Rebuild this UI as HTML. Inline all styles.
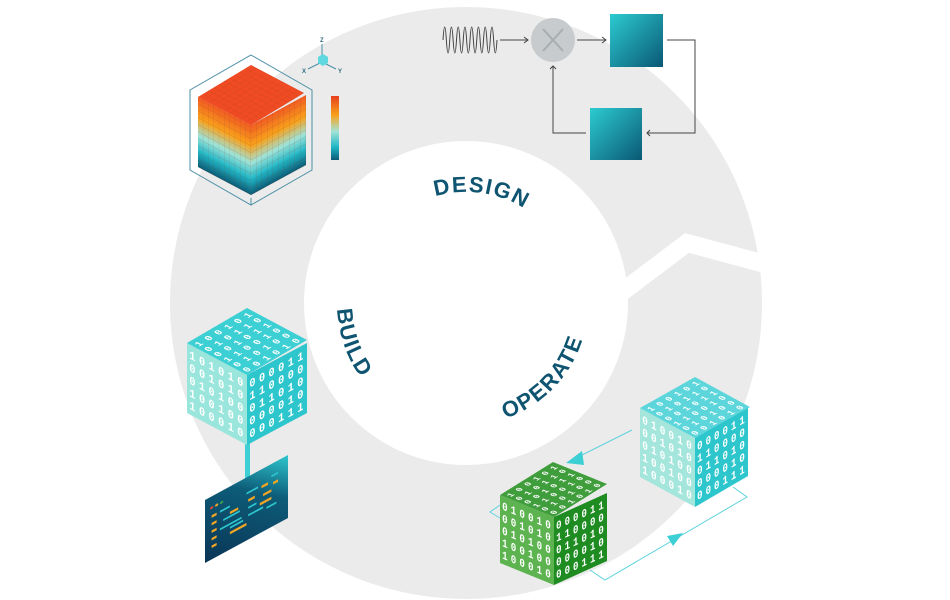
<!DOCTYPE html>
<html><head><meta charset="utf-8"><style>html,body{margin:0;padding:0;background:#fff}svg{display:block}</style></head>
<body>
<svg width="950" height="600" viewBox="0 0 950 600" xmlns="http://www.w3.org/2000/svg" font-family="Liberation Sans, sans-serif">
<defs>
<linearGradient id="side" x1="0" y1="0" x2="0" y2="1">
<stop offset="0" stop-color="#f15a22"/><stop offset="0.3" stop-color="#f9a11b"/><stop offset="0.55" stop-color="#9ee3d8"/><stop offset="0.78" stop-color="#1fb6c6"/><stop offset="1" stop-color="#0b5a75"/></linearGradient>
<linearGradient id="bar" x1="0" y1="0" x2="0" y2="1">
<stop offset="0" stop-color="#e8401f"/><stop offset="0.3" stop-color="#f7a21b"/><stop offset="0.55" stop-color="#a5e3d6"/><stop offset="0.8" stop-color="#1fb6c6"/><stop offset="1" stop-color="#0b5a75"/></linearGradient>
<linearGradient id="box" x1="0" y1="0" x2="1" y2="1"><stop offset="0" stop-color="#2ccbd1"/><stop offset="1" stop-color="#0a5874"/></linearGradient>
<linearGradient id="scr" x1="1" y1="0" x2="0" y2="1"><stop offset="0" stop-color="#2fc7cf"/><stop offset="0.35" stop-color="#0d5c78"/><stop offset="1" stop-color="#0a3556"/></linearGradient>
<pattern id="grid" width="10" height="10" patternUnits="userSpaceOnUse"><path d="M10 0V10H0" fill="none" stroke="#7a3a20" stroke-opacity="0.35" stroke-width="1"/></pattern>
<path id="pD" d="M378.5,234.6 A111,111 0 0 1 568.9,261.4"/>
<path id="pB" d="M368.2,218.9 A129,129 0 0 0 442,429.8"/>
<path id="pO" d="M436.5,421.4 A122,122 0 0 0 583.3,269.4"/>
</defs>
<!-- ring -->
<circle cx="466" cy="303" r="229" fill="none" stroke="#ebebeb" stroke-width="134"/>
<polyline points="622,292 687,243 765,264" fill="none" stroke="#fff" stroke-width="18"/>
<!-- labels -->
<g font-weight="bold" font-size="22" fill="#0f5470" letter-spacing="1.5">
<text><textPath href="#pD" startOffset="50%" text-anchor="middle">DESIGN</textPath></text>
<text><textPath href="#pB" startOffset="50%" text-anchor="middle">BUILD</textPath></text>
<text><textPath href="#pO" startOffset="50%" text-anchor="middle">OPERATE</textPath></text>
</g>
<!-- voxel cube -->
<polygon points="251,55 312,90 312,170 251,205 190,170 190,90" fill="none" stroke="#4a8fa5" stroke-width="1"/>
<line x1="251" y1="205" x2="251" y2="198" stroke="#4a8fa5"/>
<g transform="matrix(.53,.28,0,.70,198,97)"><rect width="100" height="100" fill="url(#side)"/><rect width="100" height="100" fill="url(#grid)"/></g>
<g transform="matrix(.55,-.30,0,.70,251,125)"><rect width="100" height="100" fill="url(#side)"/><rect width="100" height="100" fill="url(#grid)"/></g>
<g transform="matrix(.53,-.32,.53,.28,198,97)"><rect width="100" height="100" fill="#f04b22"/><rect width="100" height="100" fill="url(#grid)"/></g>
<rect x="331" y="96" width="8" height="64" fill="url(#bar)"/>
<g stroke="#4a8fa5" stroke-width="1" fill="none"><line x1="322" y1="60" x2="322" y2="44"/><line x1="322" y1="62" x2="308" y2="69"/><line x1="322" y1="62" x2="336" y2="69"/></g>
<polygon points="318,57 323,54 328,57 328,63 323,66 318,63" fill="#5fd8e0"/>
<g font-size="6" fill="#2a6a80" font-weight="bold"><text x="320" y="42">Z</text><text x="302" y="73">X</text><text x="338" y="73">Y</text></g>
<!-- top right diagram -->
<path d="M443,40 q1.69,-26 3.375,0 q1.69,26 3.375,0 q1.69,-26 3.375,0 q1.69,26 3.375,0 q1.69,-26 3.375,0 q1.69,26 3.375,0 q1.69,-26 3.375,0 q1.69,26 3.375,0 q1.69,-26 3.375,0 q1.69,26 3.375,0 q1.69,-26 3.375,0 q1.69,26 3.375,0 q1.69,-26 3.375,0 q1.69,26 3.375,0 q1.69,-26 3.375,0 q1.69,26 3.375,0" fill="none" stroke="#444" stroke-width="1"/>
<g stroke="#444" stroke-width="1" fill="none">
<path d="M500,40H528M524,37l4,3l-4,3"/>
<path d="M577,40H606M602,37l4,3l-4,3"/>
<path d="M667,40H695V133H647M650,130l-3,3l3,3"/>
<path d="M586,133H553V66M550,69l3,-3l3,3"/>
</g>
<circle cx="553" cy="40" r="22" fill="#c8cbcd"/>
<path d="M543,29L563,51M563,29L543,51" stroke="#a8adb0" stroke-width="2"/>
<rect x="610" y="14" width="53" height="53" fill="url(#box)"/>
<rect x="590" y="108" width="52" height="52" fill="url(#box)"/>
<!-- build cube -->
<rect x="245" y="440" width="5" height="40" fill="#3dcfd4"/>
<g transform="matrix(.83,-.45,0,.63,205,500)"><rect width="100" height="100" fill="url(#scr)"/>
<g fill="#f5a623"><rect x="8" y="30" width="6" height="4"/><rect x="8" y="42" width="6" height="4"/><rect x="8" y="54" width="6" height="4"/><rect x="8" y="66" width="6" height="4"/><rect x="8" y="78" width="6" height="4"/><rect x="30" y="40" width="10" height="4"/><rect x="52" y="36" width="8" height="4"/><rect x="68" y="26" width="8" height="4"/><rect x="70" y="40" width="10" height="4"/><rect x="66" y="52" width="14" height="4"/><rect x="30" y="72" width="20" height="4"/><rect x="82" y="30" width="6" height="4"/></g>
<g fill="#2fc7cf"><rect x="18" y="30" width="12" height="3"/><rect x="22" y="46" width="20" height="3"/><rect x="18" y="58" width="26" height="3"/><rect x="30" y="64" width="16" height="3"/><rect x="50" y="24" width="14" height="3"/><rect x="52" y="48" width="10" height="3"/><rect x="52" y="60" width="18" height="3"/><rect x="80" y="18" width="8" height="3"/><rect x="74" y="64" width="12" height="3"/></g>
<circle cx="8" cy="18" r="2" fill="#e04a2a"/><circle cx="14" cy="18" r="2" fill="#f5a623"/><circle cx="20" cy="18" r="2" fill="#3aa54a"/></g>
<g font-family="Liberation Mono, monospace" font-weight="bold" fill="#fff">
<g transform="matrix(.60,.32,0,.70,187,343)"><rect width="100" height="100" fill="#9ae6dc"/><g font-size="17"><text x="4" y="20" textLength="90">101010</text><text x="4" y="38" textLength="90">001010</text><text x="4" y="56" textLength="90">010100</text><text x="4" y="74" textLength="90">100100</text><text x="4" y="92" textLength="90">100010</text></g></g>
<g transform="matrix(.60,-.32,0,.70,247,375)"><rect width="100" height="100" fill="#2ec6cd"/><g font-size="17"><text x="4" y="20" textLength="90">000011</text><text x="4" y="38" textLength="90">110000</text><text x="4" y="56" textLength="90">011010</text><text x="4" y="74" textLength="90">000010</text><text x="4" y="92" textLength="90">000111</text></g></g>
<g transform="matrix(.60,-.35,.60,.32,187,343)"><rect width="100" height="100" fill="#3ccfd4"/><g font-size="14"><text x="4" y="16" textLength="90">100101</text><text x="4" y="32" textLength="90">010110</text><text x="4" y="48" textLength="90">001011</text><text x="4" y="64" textLength="90">110010</text><text x="4" y="80" textLength="90">010100</text><text x="4" y="96" textLength="90">001010</text></g></g>
</g>
<!-- operate connectors -->
<g stroke="#5fd3dc" stroke-width="1" fill="none">
<path d="M632,430L572,460"/>
<path d="M500,505L490,512L500,518"/>
<path d="M590,570L605,580L747,497L733,487"/>
</g>
<polygon points="566,463 582,451 584,465" fill="#3ccfd4"/>
<polygon points="683,533 667,536 673,546" fill="#3ccfd4"/>
<g font-family="Liberation Mono, monospace" font-weight="bold" fill="#fff">
<!-- cyan cube -->
<g transform="matrix(.55,.30,0,.69,640,408)"><rect width="100" height="100" fill="#a5e6dc"/><g font-size="17"><text x="4" y="20" textLength="90">010010</text><text x="4" y="38" textLength="90">001010</text><text x="4" y="56" textLength="90">010100</text><text x="4" y="74" textLength="90">100100</text><text x="4" y="92" textLength="90">100010</text></g></g>
<g transform="matrix(.53,-.31,0,.69,695,438)"><rect width="100" height="100" fill="#2ec6cd"/><g font-size="17"><text x="4" y="20" textLength="90">000011</text><text x="4" y="38" textLength="90">110000</text><text x="4" y="56" textLength="90">011010</text><text x="4" y="74" textLength="90">000010</text><text x="4" y="92" textLength="90">000111</text></g></g>
<g transform="matrix(.55,-.31,.55,.30,640,408)"><rect width="100" height="100" fill="#5dd6db"/><g font-size="14"><text x="4" y="16" textLength="90">100101</text><text x="4" y="32" textLength="90">010110</text><text x="4" y="48" textLength="90">001011</text><text x="4" y="64" textLength="90">110010</text><text x="4" y="80" textLength="90">010100</text><text x="4" y="96" textLength="90">001010</text></g></g>
<!-- green cube -->
<g transform="matrix(.54,.22,0,.68,500,495)"><rect width="100" height="100" fill="#5cb34f"/><g font-size="17"><text x="4" y="20" textLength="90">010010</text><text x="4" y="38" textLength="90">001010</text><text x="4" y="56" textLength="90">010100</text><text x="4" y="74" textLength="90">100100</text><text x="4" y="92" textLength="90">100010</text></g></g>
<g transform="matrix(.53,-.24,0,.68,554,517)"><rect width="100" height="100" fill="#1f8c22"/><g font-size="17"><text x="4" y="20" textLength="90">000011</text><text x="4" y="38" textLength="90">110000</text><text x="4" y="56" textLength="90">011010</text><text x="4" y="74" textLength="90">000010</text><text x="4" y="92" textLength="90">000111</text></g></g>
<g transform="matrix(.53,-.33,.54,.22,500,495)"><rect width="100" height="100" fill="#3f9d3c"/><g font-size="14"><text x="4" y="16" textLength="90">100101</text><text x="4" y="32" textLength="90">010110</text><text x="4" y="48" textLength="90">001011</text><text x="4" y="64" textLength="90">110010</text><text x="4" y="80" textLength="90">010100</text><text x="4" y="96" textLength="90">001010</text></g></g>
</g>
</svg>
</body></html>
